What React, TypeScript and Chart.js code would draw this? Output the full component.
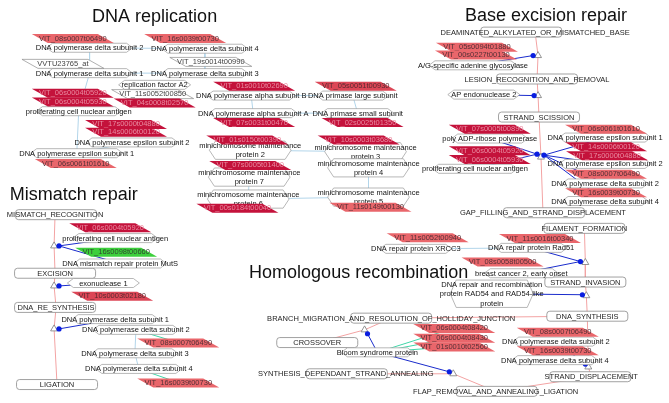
import React, { useEffect, useRef } from 'react';
import { Chart, registerables } from 'chart.js';
Chart.register(...registerables);

const FONT = '"Liberation Sans", Arial, Helvetica, sans-serif';

// ---------- section titles ----------
const titles = [
  { text: 'DNA replication', x: 152, y: 18 },
  { text: 'Base excision repair', x: 549, y: 17 },
  { text: 'Mismatch repair', x: 70, y: 200 },
  { text: 'Homologous recombination', x: 359, y: 280 },
];

// ---------- gene nodes (parallelograms) ----------
const toneColors: Record<string, string> = {
  D: '#c4123b',
  M: '#dc4656',
  L: '#e9666b',
  W: '#ffffff',
  G: '#3ccf3c',
};
const toneText: Record<string, string> = {
  D: '#e98aa0',
  M: '#5a2a30',
  L: '#553036',
  W: '#444444',
  G: '#2f4a2f',
};

const replicationGenes = [
  { key: 'g1', name: 'VIT_08s0007t06490', x: 69, y: 34, tone: 'L' },
  { key: 'g2', name: 'VIT_16s0039t00730', x: 183, y: 34, tone: 'L' },
  { key: 'g3', name: 'VVTU23765_at', x: 59, y: 60, tone: 'W' },
  { key: 'g4', name: 'VIT_19s0014t00990', x: 209, y: 58, tone: 'W' },
  { key: 'g5', name: 'VIT_11s0052t00850', x: 150, y: 91, tone: 'W' },
  { key: 'g6', name: 'VIT_04s0008t02570', x: 152, y: 100, tone: 'D' },
  { key: 'g7', name: 'VIT_06s0004t05920', x: 69, y: 90, tone: 'D' },
  { key: 'g8', name: 'VIT_06s0004t05930', x: 69, y: 99, tone: 'D' },
  { key: 'g9', name: 'VIT_17s0000t04880', x: 123, y: 122, tone: 'D' },
  { key: 'g10', name: 'VIT_14s0006t00120', x: 123, y: 130, tone: 'D' },
  { key: 'g11', name: 'VIT_06s0061t01610', x: 72, y: 162, tone: 'L' },
  { key: 'g12', name: 'VIT_01s0010t02690', x: 253, y: 83, tone: 'D' },
  { key: 'g13', name: 'VIT_05s0051t00930', x: 356, y: 83, tone: 'M' },
  { key: 'g14', name: 'VIT_07s0031t00470', x: 253, y: 120, tone: 'D' },
  { key: 'g15', name: 'VIT_02s0025t01350', x: 363, y: 120, tone: 'D' },
  { key: 'g16', name: 'VIT_01s0150t00390', x: 246, y: 138, tone: 'D' },
  { key: 'g17', name: 'VIT_10s0003t03680', x: 359, y: 138, tone: 'D' },
  { key: 'g18', name: 'VIT_07s0005t01400', x: 249, y: 164, tone: 'D' },
  { key: 'g19', name: 'VIT_00s0184t00040', x: 236, y: 208, tone: 'D' },
  { key: 'g20', name: 'VIT_11s0149t00130', x: 371, y: 207, tone: 'L' },
];

const berGenes = [
  { key: 'gb1', name: 'VIT_05s0094t01880', x: 479, y: 43, tone: 'L' },
  { key: 'gb2', name: 'VIT_00s0227t00130', x: 478, y: 51, tone: 'L' },
  { key: 'gb3', name: 'VIT_07s0005t00890', x: 492, y: 127, tone: 'D' },
  { key: 'gb4', name: 'VIT_06s0061t01610', x: 610, y: 127, tone: 'L' },
  { key: 'gb5', name: 'VIT_06s0004t05920', x: 492, y: 149, tone: 'D' },
  { key: 'gb6', name: 'VIT_06s0004t05930', x: 492, y: 158, tone: 'D' },
  { key: 'gb7', name: 'VIT_14s0006t00120', x: 610, y: 145, tone: 'D' },
  { key: 'gb8', name: 'VIT_17s0000t04880', x: 611, y: 154, tone: 'D' },
  { key: 'gb9', name: 'VIT_08s0007t06490', x: 610, y: 173, tone: 'L' },
  { key: 'gb10', name: 'VIT_16s0039t00730', x: 610, y: 192, tone: 'L' },
];

const hrGenes = [
  { key: 'gh0', name: 'VIT_11s0052t00940', x: 429, y: 238, tone: 'L' },
  { key: 'gh51', name: 'VIT_11s0016t00340', x: 543, y: 239, tone: 'L' },
  { key: 'gh58', name: 'VIT_08s0058t00500', x: 505, y: 263, tone: 'L' },
  { key: 'gh1', name: 'VIT_06s0004t08420', x: 456, y: 331, tone: 'L' },
  { key: 'gh2', name: 'VIT_06s0004t08430', x: 456, y: 341, tone: 'L' },
  { key: 'gh3', name: 'VIT_01s0010t02560', x: 456, y: 350, tone: 'L' },
  { key: 'gh08', name: 'VIT_08s0007t06490', x: 561, y: 335, tone: 'L' },
  { key: 'gh16', name: 'VIT_16s0039t00730', x: 561, y: 354, tone: 'L' },
];

const mmrGenes = [
  { key: 'gm1', name: 'VIT_06s0004t05920', x: 107, y: 228, tone: 'D' },
  { key: 'gm2', name: 'VIT_16s0098t00660', x: 113, y: 253, tone: 'G' },
  { key: 'gm3', name: 'VIT_10s0003t02180', x: 109, y: 298, tone: 'M' },
  { key: 'gm08', name: 'VIT_08s0007t06490', x: 176, y: 346, tone: 'L' },
  { key: 'gm16', name: 'VIT_16s0039t00730', x: 176, y: 387, tone: 'L' },
];

// ---------- protein labels (hexagons) ----------
const replicationProteins = [
  { key: 'rd2', text: 'DNA polymerase delta subunit 2', x: 86, y: 44 },
  { key: 'rd4', text: 'DNA polymerase delta subunit 4', x: 203, y: 45 },
  { key: 'rd1', text: 'DNA polymerase delta subunit 1', x: 86, y: 70 },
  { key: 'rd3', text: 'DNA polymerase delta subunit 3', x: 203, y: 70 },
  { key: 'rfa', text: 'replication factor A2', x: 152, y: 82 },
  { key: 'rpc', text: 'proliferating cell nuclear antigen', x: 75, y: 109 },
  { key: 're2', text: 'DNA polymerase epsilon subunit 2', x: 129, y: 141 },
  { key: 're1', text: 'DNA polymerase epsilon subunit 1', x: 73, y: 152 },
  { key: 'rab', text: 'DNA polymerase alpha subunit B', x: 250, y: 93 },
  { key: 'rpl', text: 'DNA primase large subunit', x: 353, y: 93 },
  { key: 'raa', text: 'DNA polymerase alpha subunit A', x: 252, y: 111 },
  { key: 'rps', text: 'DNA primase small subunit', x: 358, y: 111 },
  { key: 'm2', text: 'minichromosome maintenance\nprotein 2', x: 249, y: 149 },
  { key: 'm3', text: 'minichromosome maintenance\nprotein 3', x: 366, y: 150.5 },
  { key: 'm4', text: 'minichromosome maintenance\nprotein 4', x: 369, y: 167 },
  { key: 'm7', text: 'minichromosome maintenance\nprotein 7', x: 248, y: 176.5 },
  { key: 'm6', text: 'minichromosome maintenance\nprotein 6', x: 247, y: 199 },
  { key: 'm5', text: 'minichromosome maintenance\nprotein 5', x: 369, y: 197 },
];

const berProteins = [
  { key: 'bag', text: 'A/G-specific adenine glycosylase', x: 475, y: 62 },
  { key: 'bap', text: 'AP endonuclease 2', x: 486, y: 92 },
  { key: 'bpa', text: 'poly ADP-ribose polymerase', x: 492, y: 137 },
  { key: 'be1', text: 'DNA polymerase epsilon subunit 1', x: 609, y: 136 },
  { key: 'bpc', text: 'proliferating cell nuclear antigen', x: 477, y: 168 },
  { key: 'be2', text: 'DNA polymerase epsilon subunit 2', x: 609, y: 163 },
  { key: 'bd2', text: 'DNA polymerase delta subunit 2', x: 609, y: 183 },
  { key: 'bd4', text: 'DNA polymerase delta subunit 4', x: 609, y: 201 },
];

const hrProteins = [
  { key: 'hx', text: 'DNA repair protein XRCC3', x: 417, y: 250 },
  { key: 'hr51', text: 'DNA repair protein Rad51', x: 534, y: 249 },
  { key: 'hbc', text: 'breast cancer 2, early onset', x: 524, y: 275 },
  { key: 'hr54', text: 'DNA repair and recombination\nprotein RAD54 and RAD54-like\nprotein', x: 494, y: 296 },
  { key: 'hbl', text: 'Bloom syndrome protein', x: 378, y: 356 },
  { key: 'hd2', text: 'DNA polymerase delta subunit 2', x: 559, y: 345 },
  { key: 'hd4', text: 'DNA polymerase delta subunit 4', x: 558, y: 364 },
];

const mmrProteins = [
  { key: 'mpc', text: 'proliferating cell nuclear antigen', x: 112, y: 239 },
  { key: 'mms', text: 'DNA mismatch repair protein MutS', x: 117, y: 265 },
  { key: 'mex', text: 'exonuclease 1', x: 100, y: 285 },
  { key: 'md1', text: 'DNA polymerase delta subunit 1', x: 112, y: 322 },
  { key: 'md2', text: 'DNA polymerase delta subunit 2', x: 133, y: 333 },
  { key: 'md3', text: 'DNA polymerase delta subunit 3', x: 132, y: 357 },
  { key: 'md4', text: 'DNA polymerase delta subunit 4', x: 136, y: 373 },
];

// ---------- pathway process steps (rounded boxes) ----------
const processes = [
  { key: 'pdam', text: 'DEAMINATED_ALKYLATED_OR_MISMATCHED_BASE', x: 538, y: 28, bx: 524 },
  { key: 'ples', text: 'LESION_RECOGNITION_AND_REMOVAL', x: 540, y: 76, bx: 540 },
  { key: 'psci', text: 'STRAND_SCISSION', x: 542, y: 115, bx: 542 },
  { key: 'pgap', text: 'GAP_FILLING_AND_STRAND_DISPLACEMENT', x: 546, y: 213, bx: 547 },
  { key: 'pfil', text: 'FILAMENT_FORMATION', x: 588, y: 229, bx: 588 },
  { key: 'pinv', text: 'STRAND_INVASION', x: 589, y: 284, bx: 589 },
  { key: 'psyn', text: 'DNA_SYNTHESIS', x: 591, y: 319, bx: 591 },
  { key: 'pbr', text: 'BRANCH_MIGRATION_AND_RESOLUTION_OF_HOLLIDAY_JUNCTION', x: 392, y: 321, bx: 392 },
  { key: 'pcro', text: 'CROSSOVER', x: 317, y: 346, bx: 317 },
  { key: 'psd', text: 'SYNTHESIS_DEPENDANT_STRAND_ANNEALING', x: 346, y: 378, bx: 347 },
  { key: 'pfl', text: 'FLAP_REMOVAL_AND_ANNEALING_LIGATION', x: 498, y: 396, bx: 499 },
  { key: 'pdis', text: 'STRAND_DISPLACEMENT', x: 595, y: 381, bx: 594 },
  { key: 'pmr', text: 'MISMATCH_RECOGNITION', x: 51, y: 215, bx: 52 },
  { key: 'pex', text: 'EXCISION', x: 51, y: 275, bx: 51 },
  { key: 'prs', text: 'DNA_RE_SYNTHESIS', x: 52, y: 310, bx: 51 },
  { key: 'plg', text: 'LIGATION', x: 53, y: 389, bx: 53 },
];

// ---------- reaction dots and triangles ----------
const reactionDots = [
  { key: 'd1', x: 536, y: 52 }, { key: 'd2', x: 537, y: 93 },
  { key: 'd3', x: 540, y: 153 }, { key: 'd4', x: 547, y: 154 },
  { key: 'd5', x: 584, y: 263 }, { key: 'd6', x: 586, y: 297 },
  { key: 'd7', x: 368, y: 337 }, { key: 'd8', x: 451, y: 376 },
  { key: 'd9', x: 589, y: 368 }, { key: 'd10', x: 55, y: 247 },
  { key: 'd11', x: 55, y: 288 }, { key: 'd12', x: 55, y: 332 },
];

const reactionTriangles = [
  { key: 't1', x: 541, y: 52 }, { key: 't2', x: 541, y: 93 },
  { key: 't3', x: 544, y: 156 }, { key: 't5', x: 589, y: 264 },
  { key: 't6', x: 590, y: 298 }, { key: 't7', x: 365, y: 333 },
  { key: 't8', x: 455, y: 378 }, { key: 't9', x: 592, y: 371 },
  { key: 't10', x: 50, y: 247 }, { key: 't11', x: 50, y: 288 },
  { key: 't12', x: 50, y: 332 },
];

// ---------- edges ----------
const pathwayEdges = [
  ['pdam', 't1'], ['t1', 'ples'], ['ples', 't2'], ['t2', 'psci'], ['psci', 't3'], ['t3', 'pgap'],
  ['pfil', 't5'], ['t5', 'pinv'], ['pinv', 't6'], ['t6', 'psyn'], ['psyn', 'pbr'],
  ['pbr', 't7'], ['t7', 'pcro'], ['psyn', 't9'], ['t9', 'pdis'], ['pdis', 'pfl'],
  ['pfl', 't8'], ['t8', 'psd'],
  ['pmr', 't10'], ['t10', 'pex'], ['pex', 't11'], ['t11', 'prs'], ['prs', 't12'], ['t12', 'plg'],
];

const reactionEdges = [
  ['bag', 'd1'], ['bap', 'd2'], ['bpa', 'd3'], ['bpc', 'd3'], ['d3', 'd4'],
  ['be1', 'd4'], ['be2', 'd4'], ['bd2', 'd4'], ['bd4', 'd4'],
  ['hr51', 'd5'], ['hbc', 'd5'], ['hr54', 'd6'], ['hbl', 'd7'], ['hbl', 'd8'],
  ['hd2', 'd9'], ['hd4', 'd9'],
  ['mpc', 'd10'], ['mms', 'd10'], ['mex', 'd11'], ['md1', 'd12'],
  ['d1', 't1'], ['d2', 't2'], ['d4', 't3'], ['d5', 't5'], ['d6', 't6'], ['d7', 't7'],
  ['d8', 't8'], ['d9', 't9'], ['d10', 't10'], ['d11', 't11'], ['d12', 't12'],
];

const interactionEdges = [
  ['rd2', 'rd4'], ['rd2', 'rd1'], ['rd1', 'rd3'], ['rd4', 'rd3'], ['rd1', 'rpc'], ['rpc', 're1'],
  ['re2', 're1'], ['rab', 'rpl'], ['rab', 'raa'], ['rpl', 'rps'], ['raa', 'rps'],
  ['m2', 'm3'], ['m3', 'm4'], ['m4', 'm5'], ['m2', 'm7'], ['m7', 'm6'], ['m6', 'm5'],
  ['hx', 'hr51'], ['md2', 'md3'], ['md3', 'md4'],
];

const geneEdges = [
  ['md2', 'gm08'], ['md4', 'gm16'], ['hbl', 'gh1'], ['hbl', 'gh2'], ['hbl', 'gh3'],
];

// ---------- styles ----------
const EDGE_COLORS = {
  pathway: '#f3a3a3',
  reaction: '#1a2ccc',
  interaction: '#b2d5ea',
  gene: '#40d6a8',
};

const allGenes = [...replicationGenes, ...berGenes, ...hrGenes, ...mmrGenes];
const allProteins = [...replicationProteins, ...berProteins, ...hrProteins, ...mmrProteins];

const nodeIndex: Record<string, { x: number; y: number }> = {};
[...allGenes, ...allProteins, ...processes, ...reactionDots, ...reactionTriangles].forEach((n: any) => {
  nodeIndex[n.key] = { x: n.x, y: n.y };
});

function edgeDatasets(list: string[][], color: string, width: number, order: number) {
  return list.map(([a, b]) => ({
    type: 'scatter' as const,
    data: [
      { x: nodeIndex[a].x, y: nodeIndex[a].y },
      { x: nodeIndex[b].x, y: nodeIndex[b].y },
    ],
    showLine: true,
    borderColor: color,
    borderWidth: width,
    pointRadius: 0,
    pointHoverRadius: 0,
    fill: false,
    tension: 0,
    order,
  }));
}

const networkPlugin = {
  id: 'networkNodes',
  afterDatasetsDraw(chart: any) {
    const ctx: CanvasRenderingContext2D = chart.ctx;
    const sx = chart.scales.x;
    const sy = chart.scales.y;
    const px = (v: number) => sx.getPixelForValue(v);
    const py = (v: number) => sy.getPixelForValue(v);
    ctx.save();
    ctx.textAlign = 'center';
    ctx.textBaseline = 'middle';
    const small = `7.5px ${FONT}`;

    // process boxes
    processes.forEach((p) => {
      const cx = px(p.bx);
      const cy = py(p.y);
      const w = 81;
      const h = 10;
      ctx.beginPath();
      (ctx as any).roundRect(cx - w / 2, cy - h / 2, w, h, 3);
      ctx.fillStyle = '#ffffff';
      ctx.fill();
      ctx.strokeStyle = '#8a8a8a';
      ctx.lineWidth = 0.8;
      ctx.stroke();
    });
    ctx.font = small;
    ctx.fillStyle = '#1e1e1e';
    processes.forEach((p) => {
      ctx.fillText(p.text, px(p.x), py(p.y) + 0.5);
    });

    // protein labels
    allProteins.forEach((p) => {
      const lines = p.text.split('\n');
      const lh = 9.2;
      ctx.font = small;
      const tw = Math.max(...lines.map((l) => ctx.measureText(l).width));
      const w = Math.max(72, tw * 0.8);
      const h = 9 + lh * (lines.length - 1);
      const cx = px(p.x);
      const cy = py(p.y);
      const ins = 6;
      ctx.beginPath();
      ctx.moveTo(cx - w / 2, cy);
      ctx.lineTo(cx - w / 2 + ins, cy - h / 2);
      ctx.lineTo(cx + w / 2 - ins, cy - h / 2);
      ctx.lineTo(cx + w / 2, cy);
      ctx.lineTo(cx + w / 2 - ins, cy + h / 2);
      ctx.lineTo(cx - w / 2 + ins, cy + h / 2);
      ctx.closePath();
      ctx.fillStyle = '#ffffff';
      ctx.fill();
      ctx.strokeStyle = '#9a9a9a';
      ctx.lineWidth = 0.7;
      ctx.stroke();
      ctx.fillStyle = '#151515';
      lines.forEach((l, i) => {
        ctx.fillText(l, cx, cy - ((lines.length - 1) * lh) / 2 + i * lh + 0.5);
      });
    });

    // gene parallelograms
    allGenes.forEach((g) => {
      const cx = px(g.x);
      const cy = py(g.y) + 0.5;
      const W = 82;
      const H = 9;
      const S = 16;
      ctx.beginPath();
      ctx.moveTo(cx - W / 2, cy - H / 2);
      ctx.lineTo(cx + W / 2 - S, cy - H / 2);
      ctx.lineTo(cx + W / 2, cy + H / 2);
      ctx.lineTo(cx - W / 2 + S, cy + H / 2);
      ctx.closePath();
      ctx.fillStyle = toneColors[g.tone];
      ctx.fill();
      if (g.tone === 'W') {
        ctx.strokeStyle = '#8e8e8e';
        ctx.lineWidth = 0.7;
        ctx.stroke();
      }
      ctx.font = small;
      ctx.fillStyle = toneText[g.tone];
      ctx.fillText(g.name, px(g.x), py(g.y) + 0.5);
    });

    // titles
    ctx.font = `18px ${FONT}`;
    ctx.fillStyle = '#111111';
    ctx.textBaseline = 'alphabetic';
    titles.forEach((t) => ctx.fillText(t.text, px(t.x), py(t.y)));
    ctx.restore();
  },
};

export default function App() {
  const ref = useRef<HTMLCanvasElement>(null);
  useEffect(() => {
    document.body.style.margin = '0';
    const canvas = ref.current;
    if (!canvas) return;
    const datasets: any[] = [
      {
        type: 'scatter',
        data: reactionDots.map((d) => ({ x: d.x, y: d.y })),
        pointStyle: 'circle',
        pointRadius: 2.6,
        pointHoverRadius: 2.6,
        pointBackgroundColor: '#0a1ee0',
        pointBorderWidth: 0,
        showLine: false,
        order: 0,
      },
      {
        type: 'scatter',
        data: reactionTriangles.map((d) => ({ x: d.x, y: d.y })),
        pointStyle: 'triangle',
        pointRadius: 4,
        pointHoverRadius: 4,
        pointBackgroundColor: '#ffffff',
        pointBorderColor: '#7a7a7a',
        pointBorderWidth: 0.8,
        showLine: false,
        order: 1,
      },
      ...edgeDatasets(reactionEdges, EDGE_COLORS.reaction, 1, 2),
      ...edgeDatasets(geneEdges, EDGE_COLORS.gene, 1, 3),
      ...edgeDatasets(interactionEdges, EDGE_COLORS.interaction, 1, 4),
      ...edgeDatasets(pathwayEdges, EDGE_COLORS.pathway, 1, 5),
    ];
    const chart = new Chart(canvas, {
      type: 'scatter',
      data: { datasets },
      options: {
        animation: false,
        responsive: false,
        events: [],
        layout: { padding: 0 },
        plugins: { legend: { display: false }, tooltip: { enabled: false } },
        scales: {
          x: { type: 'linear', min: 0, max: 669, display: false },
          y: { type: 'linear', min: 0, max: 403, reverse: true, display: false },
        },
      },
      plugins: [networkPlugin],
    } as any);
    return () => chart.destroy();
  }, []);
  return (
    <div style={{ position: 'absolute', left: 0, top: 0, width: 669, height: 403, background: '#ffffff' }}>
      <canvas ref={ref} width={669} height={403} style={{ display: 'block', width: 669, height: 403 }} />
    </div>
  );
}
